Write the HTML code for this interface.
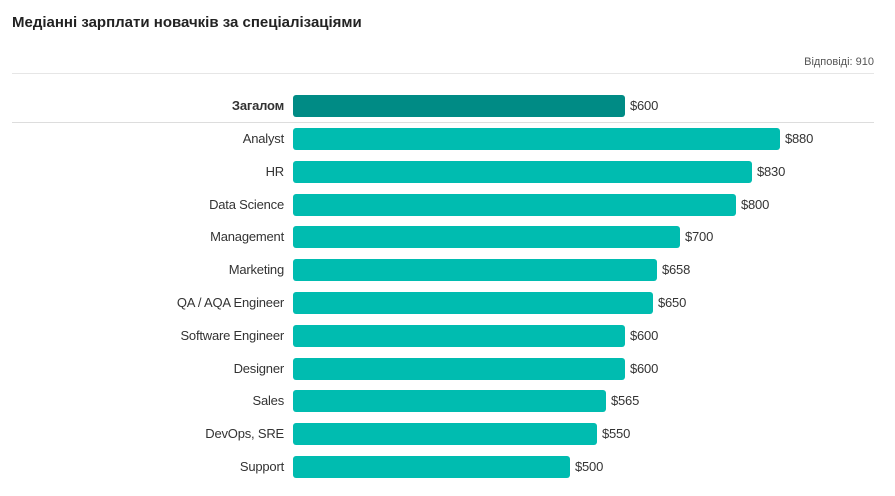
<!DOCTYPE html>
<html><head><meta charset="utf-8"><style>
body{margin:0;width:895px;height:496px;background:#fff;font-family:"Liberation Sans","DejaVu Sans",sans-serif;position:relative;overflow:hidden}
.t{position:absolute;left:12px;top:14px;font-size:15px;font-weight:bold;color:#222}
.r{position:absolute;right:21px;top:56px;font-size:11px;color:#555}
.hl{position:absolute;left:12px;right:21px;height:1px;background:#e6e6e6}
.lab{position:absolute;right:611px;font-size:13px;color:#333;white-space:nowrap;line-height:22px;letter-spacing:-0.2px}
.bar{position:absolute;left:293px;height:22px;border-radius:3px;background:#00bcb0}
.val{position:absolute;font-size:13px;color:#333;line-height:22px;letter-spacing:-0.2px}
</style></head><body>
<div class="t">Медіанні зарплати новачків за спеціалізаціями</div>
<div class="r">Відповіді: 910</div>
<div class="hl" style="top:73px"></div>
<div class="hl" style="top:122px;background:#ddd"></div>
<div class="lab" style="top:95px;font-weight:bold">Загалом</div>
<div class="bar" style="top:95px;width:332px;background:#008b85"></div>
<div class="val" style="top:95px;left:630px">$600</div>
<div id="rows"></div>
<script>
var d=[["Analyst",880],["HR",830],["Data Science",800],["Management",700],["Marketing",658],["QA / AQA Engineer",650],["Software Engineer",600],["Designer",600],["Sales",565],["DevOps, SRE",550],["Support",500]];
var h="";d.forEach(function(x,i){var y=Math.round(128+i*32.8),w=Math.round(x[1]*487/880);
h+='<div class="lab" style="top:'+y+'px">'+x[0]+'</div><div class="bar" style="top:'+y+'px;width:'+w+'px"></div><div class="val" style="top:'+y+'px;left:'+(293+w+5)+'px">$'+x[1]+'</div>';});
document.getElementById("rows").innerHTML=h;
</script>
</body></html>
